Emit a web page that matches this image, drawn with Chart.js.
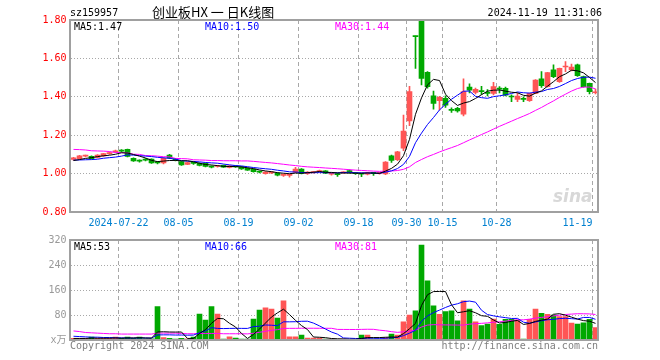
<!DOCTYPE html>
<html><head><meta charset="utf-8">
<script src="https://cdn.jsdelivr.net/npm/chart.js@4.4.1/dist/chart.umd.min.js"></script>
<style>
html,body{margin:0;padding:0;background:#fff;}
#wrap{position:relative;width:660px;height:360px;overflow:hidden;font-family:"DejaVu Sans Mono",monospace;}
canvas{position:absolute;left:0;}
.t{position:absolute;white-space:pre;font-size:10px;line-height:12px;}
</style></head><body>
<div id="wrap">
<canvas id="pc" width="660" height="230" style="top:0"></canvas>
<canvas id="vc" width="660" height="130" style="top:230px"></canvas>
<div class="t" style="left:70px;top:7px;color:#000">sz159957</div>
<div class="t" style="left:152px;top:4px;color:#000;font-family:'Noto Sans CJK SC';font-size:13px;line-height:16px">创业板HX 一 日K线图</div>
<div class="t" style="right:58px;top:7px;color:#000">2024-11-19 11:31:06</div>
<div class="t" id="pm5" style="left:74px;top:21px;color:#000"></div>
<div class="t" id="pm10" style="left:205px;top:21px;color:#0000ff"></div>
<div class="t" id="pm30" style="left:335px;top:21px;color:#ff00ff"></div>
<div class="t" id="vm5" style="left:74px;top:241px;color:#000"></div>
<div class="t" id="vm10" style="left:205px;top:241px;color:#0000ff"></div>
<div class="t" id="vm30" style="left:335px;top:241px;color:#ff00ff"></div>
<div class="t" style="left:553px;top:186px;color:#d8d8d8;font-family:'DejaVu Sans';font-style:italic;font-weight:bold;font-size:17px;line-height:20px">sina</div>
<div class="t" style="left:70px;top:340px;color:#808080">Copyright 2024 SINA.COM</div>
<div class="t" style="right:62px;top:340px;color:#808080">http://finance.sina.com.cn</div>
</div>
<script>
const dates = [
'2024-07-10','2024-07-11','2024-07-12','2024-07-15','2024-07-16','2024-07-17','2024-07-18','2024-07-19',
'2024-07-22','2024-07-23','2024-07-24','2024-07-25','2024-07-26','2024-07-29','2024-07-30','2024-07-31',
'2024-08-01','2024-08-02','2024-08-05','2024-08-06','2024-08-07','2024-08-08','2024-08-09',
'2024-08-12','2024-08-13','2024-08-14','2024-08-15','2024-08-16',
'2024-08-19','2024-08-20','2024-08-21','2024-08-22','2024-08-23',
'2024-08-26','2024-08-27','2024-08-28','2024-08-29','2024-08-30',
'2024-09-02','2024-09-03','2024-09-04','2024-09-05','2024-09-06',
'2024-09-09','2024-09-10','2024-09-11','2024-09-12','2024-09-13',
'2024-09-18','2024-09-19','2024-09-20',
'2024-09-23','2024-09-24','2024-09-25','2024-09-26','2024-09-27',
'2024-09-30',
'2024-10-08','2024-10-09','2024-10-10','2024-10-11',
'2024-10-14','2024-10-15','2024-10-16','2024-10-17','2024-10-18',
'2024-10-21','2024-10-22','2024-10-23','2024-10-24','2024-10-25',
'2024-10-28','2024-10-29','2024-10-30','2024-10-31',
'2024-11-01','2024-11-04','2024-11-05','2024-11-06','2024-11-07','2024-11-08',
'2024-11-11','2024-11-12','2024-11-13','2024-11-14','2024-11-15',
'2024-11-18','2024-11-19'];

const open = [
1.074,1.078,1.091,1.090,1.084,1.092,1.104,1.112,
1.120,1.126,1.080,1.067,1.075,1.075,1.058,1.055,
1.097,1.074,1.062,1.048,1.055,1.054,1.053,
1.036,1.037,1.043,1.032,1.038,
1.035,1.027,1.024,1.010,1.000,
1.004,1.003,0.990,0.991,1.008,
1.024,1.000,1.005,1.010,1.014,
0.997,0.999,1.004,1.012,1.003,
1.000,0.997,1.003,
1.001,0.998,1.093,1.072,1.132,
1.274,
1.716,1.795,1.528,1.405,
1.380,1.392,1.333,1.340,1.310,
1.450,1.423,1.430,1.420,1.418,
1.443,1.444,1.402,1.387,
1.389,1.380,1.418,1.493,1.453,1.540,
1.479,1.555,1.540,1.566,1.505,
1.470,1.421];

const close = [
1.082,1.092,1.093,1.078,1.097,1.104,1.107,1.118,
1.117,1.089,1.066,1.065,1.070,1.055,1.056,1.080,
1.080,1.072,1.045,1.058,1.053,1.042,1.038,
1.034,1.040,1.034,1.040,1.035,
1.025,1.018,1.010,1.008,1.008,
1.006,0.992,0.996,0.995,1.024,
1.001,1.008,1.008,1.014,1.002,
0.999,0.995,1.006,1.010,1.000,
0.997,1.004,1.001,
1.003,1.060,1.068,1.114,1.222,
1.427,
1.713,1.496,1.453,1.365,
1.397,1.357,1.329,1.327,1.427,
1.435,1.439,1.427,1.418,1.453,
1.440,1.409,1.399,1.404,
1.387,1.418,1.487,1.458,1.526,1.505,
1.548,1.558,1.555,1.510,1.453,
1.427,1.425];

const high = [
1.085,1.095,1.097,1.092,1.099,1.106,1.112,1.122,
1.125,1.128,1.082,1.072,1.078,1.077,1.062,1.084,
1.100,1.078,1.063,1.060,1.060,1.056,1.055,
1.040,1.043,1.045,1.042,1.040,
1.037,1.030,1.025,1.013,1.010,
1.009,1.004,0.999,0.998,1.033,
1.026,1.010,1.012,1.018,1.016,
1.002,1.002,1.010,1.019,1.005,
1.002,1.007,1.006,
1.006,1.062,1.096,1.116,1.305,
1.455,
1.716,1.800,1.532,1.430,
1.402,1.405,1.342,1.345,1.493,
1.468,1.445,1.455,1.438,1.475,
1.453,1.450,1.410,1.418,
1.400,1.420,1.490,1.531,1.528,1.566,
1.550,1.583,1.570,1.570,1.508,
1.472,1.440];

const low = [
1.070,1.075,1.087,1.076,1.082,1.090,1.100,1.110,
1.113,1.087,1.064,1.060,1.066,1.053,1.050,1.050,
1.078,1.066,1.042,1.046,1.048,1.040,1.035,
1.030,1.034,1.032,1.030,1.032,
1.022,1.016,1.008,1.004,0.997,
1.000,0.988,0.985,0.982,1.005,
0.998,0.996,1.002,1.007,1.000,
0.992,0.985,1.002,1.002,0.996,
0.984,0.993,0.990,
0.997,0.995,1.058,1.067,1.120,
1.250,
1.548,1.462,1.445,1.335,
1.332,1.345,1.318,1.320,1.300,
1.420,1.415,1.413,1.405,1.410,
1.420,1.405,1.375,1.375,
1.375,1.376,1.416,1.449,1.450,1.500,
1.475,1.531,1.535,1.506,1.450,
1.415,1.415];

const volume = [
5,5,5,9,5,5,5,9,
5,9,5,9,4,4,107,8,
5,3,5,4,9,83,64,
107,83,3,10,6,
3,3,67,96,103,
99,70,125,10,10,
16,6,6,6,3,
3,2,3,2,2,
16,16,3,
2,7,19,16,58,
80,
93,304,189,109,
82,91,93,61,125,
99,58,46,51,67,
50,66,66,64,
3,66,99,85,82,80,
75,75,54,51,55,
66,40];

// moving-average values before enough history exists
const ma5Early  = [1.068,1.073,1.079,1.083];
const ma10Early = [1.070,1.071,1.072,1.073,1.075,1.080,1.083,1.086,1.091];
const ma30Early = [1.126,1.125,1.123,1.119,1.118,1.117,1.115,1.110,1.109,1.108,1.101,1.100,1.094,1.093,1.091,1.088,1.087,1.079,1.078,1.077,1.072,1.071,1.070,1.068,1.068,1.067,1.067,1.067,1.066];
const vma5Early  = [5,5,5,6];
const vma10Early = [12,11,10,9,9,8,8,7,7];
const vma30Early = [29,27,24,23,22,21,20,20,19,19,19,19,19,19,22,22,22,22,21,20,20,21,21,21,21,20,20,20,20];

const tickDates  = ['2024-07-22','2024-08-05','2024-08-19','2024-09-02','2024-09-18','2024-09-30','2024-10-15','2024-10-28','2024-11-19'];
const tickLabels = ['2024-07-22','08-05','08-19','09-02','09-18','09-30','10-15','10-28','11-19'];
const priceTicks = [0.8,1.0,1.2,1.4,1.6,1.8];
const volTicks = [0,80,160,240,320];

function movingAvg(src, n, early) {
  return src.map((_, i) => {
    if (i < n - 1) return early[i];
    let s = 0; for (let k = i - n + 1; k <= i; k++) s += src[k];
    return s / n;
  });
}
const ma5 = movingAvg(close, 5, ma5Early), ma10 = movingAvg(close, 10, ma10Early), ma30 = movingAvg(close, 30, ma30Early);
const vma5 = movingAvg(volume, 5, vma5Early), vma10 = movingAvg(volume, 10, vma10Early), vma30 = movingAvg(volume, 30, vma30Early);
const L = dates.length - 1;
document.getElementById('pm5').textContent = 'MA5:' + ma5[L].toFixed(2);
document.getElementById('pm10').textContent = 'MA10:' + ma10[L].toFixed(2);
document.getElementById('pm30').textContent = 'MA30:' + ma30[L].toFixed(2);
document.getElementById('vm5').textContent = 'MA5:' + Math.floor(vma5[L]);
document.getElementById('vm10').textContent = 'MA10:' + Math.floor(vma10[L]);
document.getElementById('vm30').textContent = 'MA30:' + Math.floor(vma30[L]);

const RED = '#ff5555', GREEN = '#00a800';
const colors = dates.map((_, i) => close[i] >= open[i] ? RED : GREEN);
const tickText = {};
tickDates.forEach((d, k) => { tickText[dates.indexOf(d)] = tickLabels[k]; });
const gridIdx = new Set(Object.keys(tickText).map(Number));
const GRID = '#a8a8a8';
const monoFont = {family: "'DejaVu Sans Mono', 'Noto Sans CJK SC', monospace", size: 10};

const frame = {
  id: 'frame',
  afterDatasetsDraw(chart) {
    const {ctx, chartArea: a} = chart;
    ctx.save();
    ctx.strokeStyle = '#a0a0a0'; ctx.lineWidth = 2;
    const l = Math.floor(a.left), t = Math.floor(a.top), r = Math.floor(a.right), b = Math.floor(a.bottom);
    ctx.strokeRect(l, t, r - l, b - t);
    ctx.restore();
  }
};

function xScale(showTicks) {
  return {
    offset: true,
    grid: {offset: true, drawTicks: false, lineWidth: 1,
      color: c => gridIdx.has(c.index) ? GRID : 'rgba(0,0,0,0)'},
    border: {display: false, dash: [4, 3]},
    ticks: showTicks ? {autoSkip: false, maxRotation: 0, minRotation: 0, align: 'inner', labelOffset: -3,
      padding: 5, color: '#0080d0', font: monoFont, callback: (v, i) => tickText[i] || ''} : {display: false},
    afterFit(s) { s.height = showTicks ? 18 : 20; }
  };
}
function line(data, color) {
  return {type: 'line', data, borderColor: color, borderWidth: 1, pointRadius: 0, tension: 0, order: 0};
}
const common = {responsive: false, animation: false, events: [],
  plugins: {legend: {display: false}, tooltip: {enabled: false}}};

new Chart(document.getElementById('pc'), {
  type: 'bar',
  data: {labels: dates, datasets: [
    line(ma5, '#000000'), line(ma10, '#0000ff'), line(ma30, '#ff00ff'),
    {type: 'bar', data: dates.map((_, i) => [open[i], close[i]]), backgroundColor: colors,
      barThickness: 5, minBarLength: 1, grouped: false, order: 1},
    {type: 'bar', data: dates.map((_, i) => [low[i], high[i]]), backgroundColor: colors,
      barThickness: 1, grouped: false, order: 2}
  ]},
  options: Object.assign({}, common, {
    layout: {padding: {top: 20, right: 61.5, left: 0, bottom: 0}},
    scales: {
      x: xScale(true),
      y: {min: 0.8, max: 1.8,
        afterBuildTicks(s) { s.ticks = priceTicks.map(v => ({value: v})); },
        ticks: {padding: 4, color: '#ff0000', font: monoFont, callback: v => Number(v).toFixed(2)},
        grid: {drawTicks: false, color: c => (c.index === 0 || c.index === priceTicks.length - 1) ? 'rgba(0,0,0,0)' : GRID},
        border: {display: false, dash: [1, 2]},
        afterFit(s) { s.width = 70.5; }}
    }
  }),
  plugins: [frame]
});

new Chart(document.getElementById('vc'), {
  type: 'bar',
  data: {labels: dates, datasets: [
    line(vma5, '#000000'), line(vma10, '#0000ff'), line(vma30, '#ff00ff'),
    {type: 'bar', data: volume, backgroundColor: colors, barThickness: 5, grouped: false, order: 1}
  ]},
  options: Object.assign({}, common, {
    layout: {padding: {top: 10, right: 61.5, left: 0, bottom: 0}},
    scales: {
      x: xScale(false),
      y: {min: 0, max: 320,
        afterBuildTicks(s) { s.ticks = volTicks.map(v => ({value: v})); },
        ticks: {padding: 4, color: '#999999', font: monoFont, callback: v => v === 0 ? 'x万' : String(v)},
        grid: {drawTicks: false, color: c => (c.index === 0 || c.index === volTicks.length - 1) ? 'rgba(0,0,0,0)' : GRID},
        border: {display: false, dash: [1, 2]},
        afterFit(s) { s.width = 70.5; }}
    }
  }),
  plugins: [frame]
});
</script>
</body></html>
